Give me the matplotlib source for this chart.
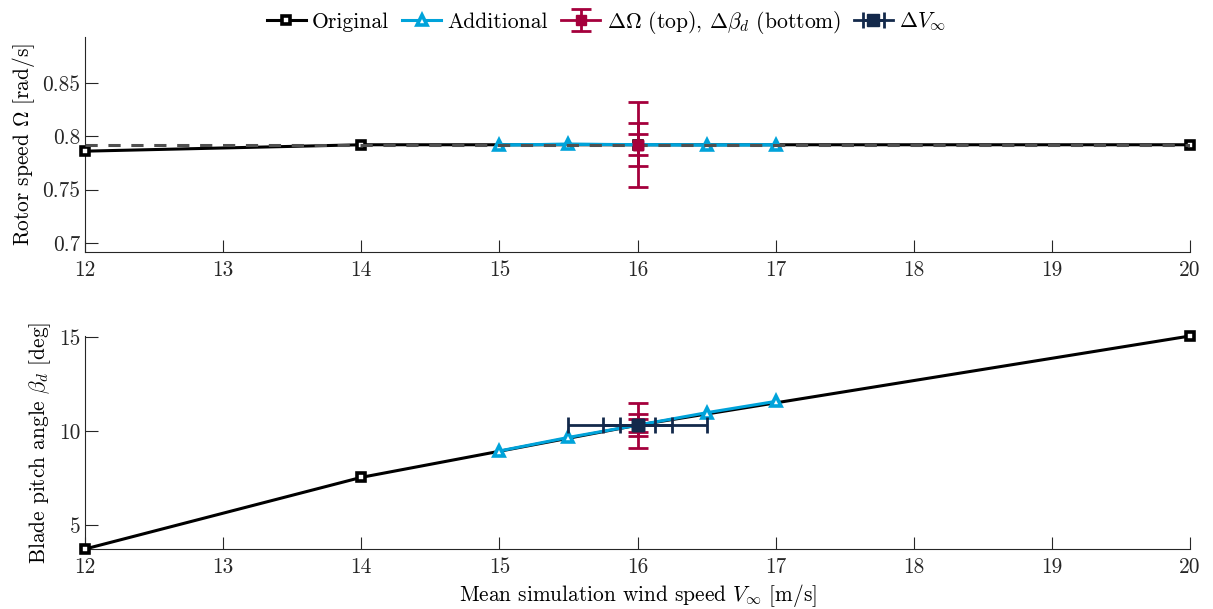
import matplotlib
matplotlib.use("Agg")
import matplotlib.pyplot as plt
from matplotlib.ticker import FuncFormatter

plt.rcParams['font.family'] = 'serif'
plt.rcParams['font.serif'] = ['cmr10']
plt.rcParams['mathtext.fontset'] = 'cm'
plt.rcParams['axes.formatter.use_mathtext'] = True
plt.rcParams['font.size'] = 15.4

# Data
orig_v = [12, 14, 16, 20]
orig_omega = [0.786, 0.792, 0.792, 0.792]
orig_beta = [3.75, 7.55, 10.32, 15.05]

add_v = [15, 15.5, 16, 16.5, 17]
add_omega = [0.7918, 0.7925, 0.7920, 0.7918, 0.7920]
add_beta = [8.95, 9.67, 10.32, 10.98, 11.58]

rated_omega = 0.7917
rated_span = [12, 20]

err_v = 16
err_omega = 0.7920
err_omega_deltas = [0.01, 0.02, 0.04]
err_beta = 10.32
err_beta_deltas = [0.35, 0.6, 1.2]
err_wind_deltas = [0.125, 0.25, 0.5]

xticks = [12, 13, 14, 15, 16, 17, 18, 19, 20]
omega_ticks = [0.7, 0.75, 0.8, 0.85]
beta_ticks = [5, 10, 15]

c_blue = '#00A3DA'
c_red = '#A5003C'
c_navy = '#13294B'
c_grey = '#505050'

fig = plt.figure(figsize=(12.13, 6.09), dpi=100)
ax1 = fig.add_axes([85/1213, 1-252/609, 1105/1213, 215/609])
ax2 = fig.add_axes([85/1213, 1-549/609, 1105/1213, 213/609])

fmt = FuncFormatter(lambda v, p: '%g' % v)

for ax in (ax1, ax2):
    for s in ('top', 'right'):
        ax.spines[s].set_visible(False)
    for s in ('left', 'bottom'):
        ax.spines[s].set_color('#262626')
        ax.spines[s].set_linewidth(0.8)
    ax.tick_params(direction='in', length=9, width=0.8, colors='#262626', labelcolor='#262626')
    ax.set_xlim(12, 20)
    ax.set_xticks(xticks)
    ax.xaxis.set_major_formatter(fmt)
    ax.yaxis.set_major_formatter(fmt)
    ax.tick_params(axis='x', pad=6)

sq = dict(marker='s', ms=6, mfc='white', mec='black', mew=2.6)
tri = dict(marker='^', ms=7.5, mfc='white', mec=c_blue, mew=2.6)

# Top panel
h_orig, = ax1.plot(orig_v, orig_omega, '-', color='black', lw=2.2, zorder=3, clip_on=False, **sq)
h_add, = ax1.plot(add_v[:2] + add_v[3:], add_omega[:2] + add_omega[3:], '-', color=c_blue, lw=2.2,
                  zorder=4, **tri)
ax1.plot(add_v, add_omega, '-', color=c_blue, lw=2.2, zorder=4)
ax1.plot(rated_span, [rated_omega, rated_omega], '--', color=c_grey, lw=2.2, dashes=(4, 3.5), zorder=5)
for d in err_omega_deltas:
    h_err = ax1.errorbar([err_v], [err_omega], yerr=[d], color=c_red, lw=2, capsize=7,
                         capthick=2, marker='s', ms=7, mfc=c_red, mec=c_red, zorder=6)
ax1.set_ylim(0.6915, 0.893)
ax1.set_yticks(omega_ticks)
ax1.set_ylabel(r'Rotor speed $\Omega$ [rad/s]')

# Bottom panel
ax2.plot(orig_v, orig_beta, '-', color='black', lw=2.2, zorder=3, clip_on=False, **sq)
ax2.plot(add_v, add_beta, '-', color=c_blue, lw=2.2, zorder=4)
ax2.plot(add_v[:2] + add_v[3:], add_beta[:2] + add_beta[3:], ' ', zorder=4, **tri)
for d in err_beta_deltas:
    ax2.errorbar([err_v], [err_beta], yerr=[d], color=c_red, lw=2, capsize=7,
                 capthick=2, marker='s', ms=7, mfc=c_red, mec=c_red, zorder=6)
for d in err_wind_deltas:
    h_wind = ax2.errorbar([err_v], [err_beta], xerr=[d], color=c_navy, lw=2, capsize=6,
                          capthick=2, marker='s', ms=8, mfc=c_navy, mec=c_navy, zorder=7)
ax2.set_ylim(3.75, 15.05)
ax2.set_yticks(beta_ticks)
ax2.set_ylabel(r'Blade pitch angle $\beta_d$ [deg]')
ax2.set_xlabel(r'Mean simulation wind speed $V_\infty$ [m/s]', labelpad=4)

fig.legend([h_orig, h_add, h_err, h_wind],
           ['Original', 'Additional', r'$\Delta\Omega$ (top), $\Delta\beta_d$ (bottom)', r'$\Delta V_\infty$'],
           loc='upper center', bbox_to_anchor=(0.5, 1.018), ncol=4, frameon=False,
           handlelength=1.8, handletextpad=0.3, columnspacing=0.6, fontsize=15.6)

fig.savefig('out.png', dpi=100)
